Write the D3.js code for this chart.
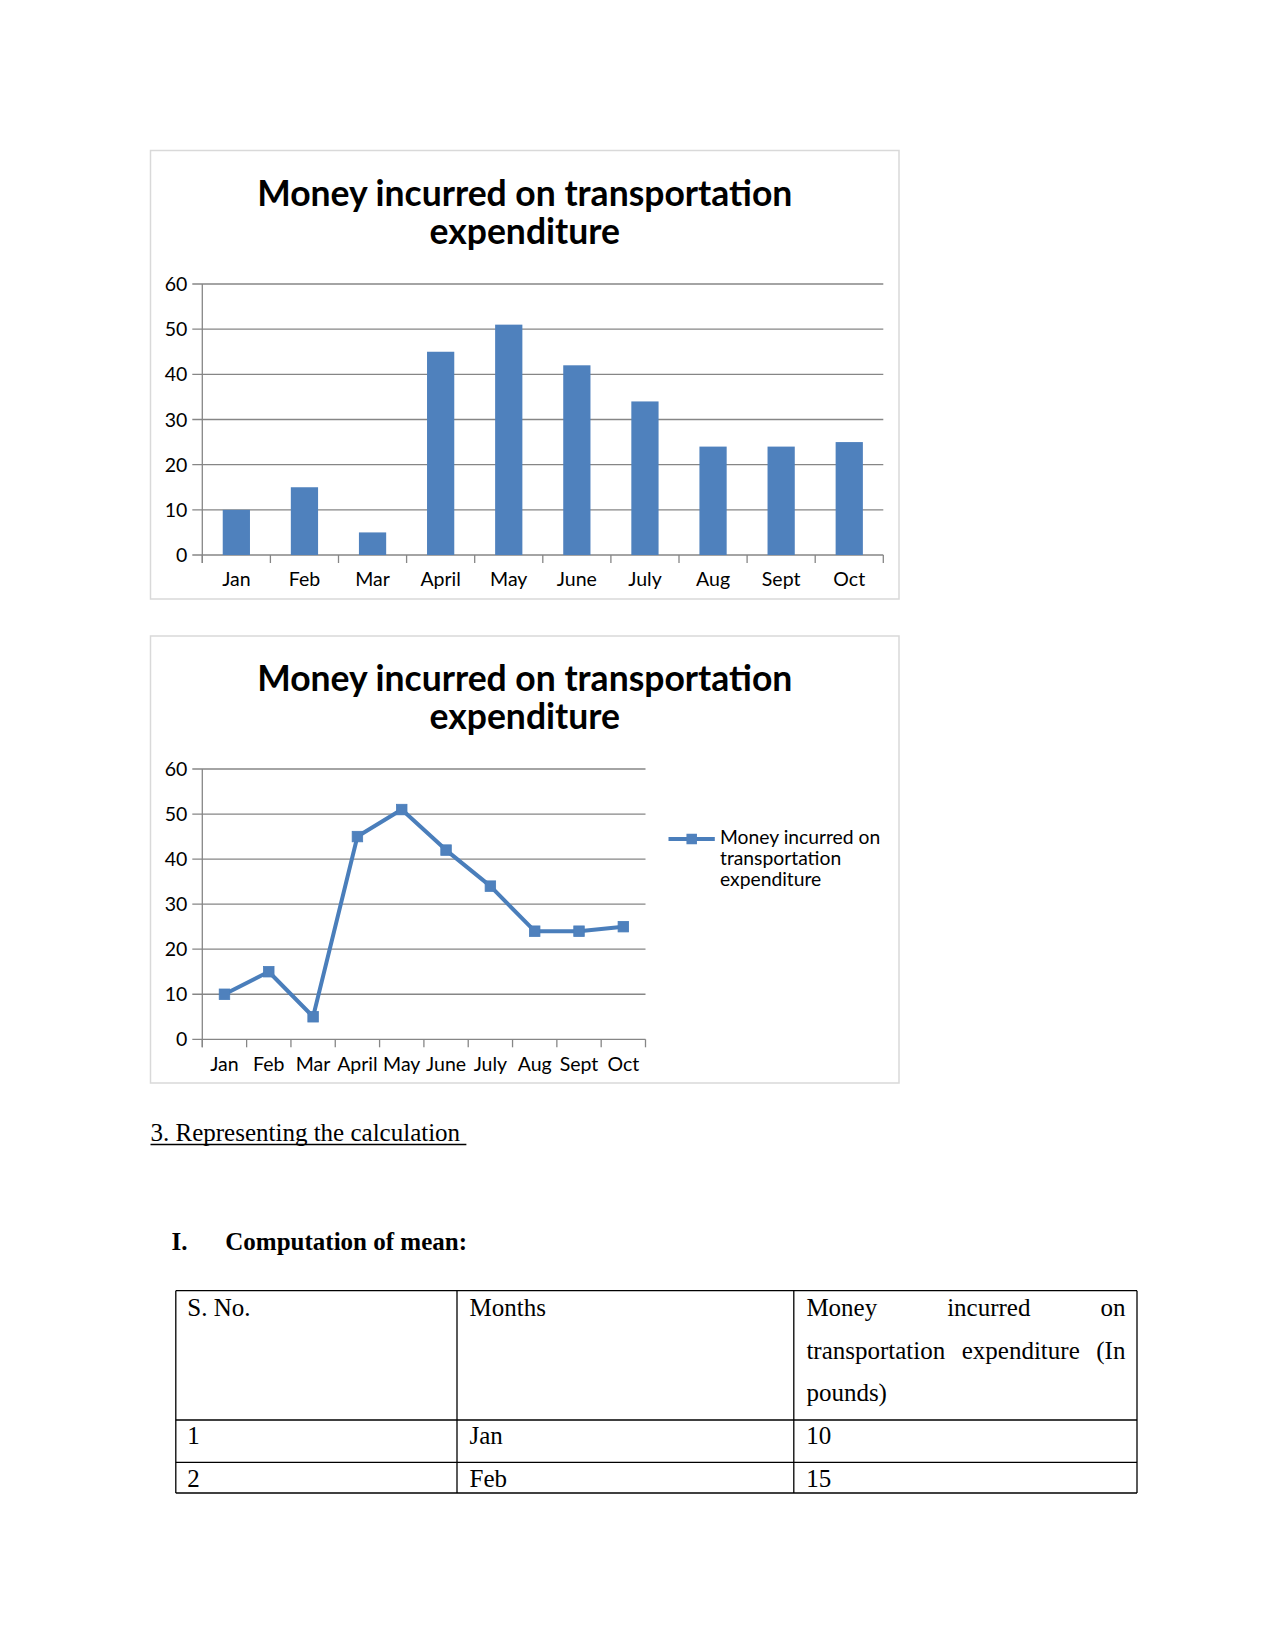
<!DOCTYPE html>
<html>
<head>
<meta charset="utf-8">
<script src="https://cdn.jsdelivr.net/npm/d3@7"></script>
<style>
  html, body { margin: 0; padding: 0; background: #ffffff; }
  svg { display: block; }
</style>
</head>
<body>
<svg id="page" width="1275" height="1651"></svg>
<script>
// ---------------- data ----------------
const months = ["Jan", "Feb", "Mar", "April", "May", "June", "July", "Aug", "Sept", "Oct"];
const values = [10, 15, 5, 45, 51, 42, 34, 24, 24, 25];
const yTicks = [0, 10, 20, 30, 40, 50, 60];
const titleLines = ["Money incurred on transportation", "expenditure"];
const legendLines = ["Money incurred on", "transportation", "expenditure"];
const sectionHeading = "3. Representing the calculation ";
const subHeadingNum = "I.";
const subHeading = "Computation of mean:";
const tableHeader = ["S. No.", "Months", "Money incurred on transportation expenditure (In pounds)"];
const tableRowCount = 2;

// ---------------- styles ----------------
const BLUE = "#4f81bd";
const LINEBLUE = "#4a7ebb";
const GRID = "#868686";
const CHART_FONT = "Lato, 'Open Sans', sans-serif";
const SERIF = "'Liberation Serif', 'DejaVu Serif', serif";
const AXIS_FS = 19.5;

const svg = d3.select("#page");

function drawFrame(g, box) {
  g.append("rect")
    .attr("x", box.x).attr("y", box.y)
    .attr("width", box.w).attr("height", box.h)
    .attr("fill", "#fff").attr("stroke", "#d9d9d9").attr("stroke-width", 1.5);
  const cx = box.x + box.w / 2;
  titleLines.forEach((t, i) => {
    g.append("text")
      .attr("x", cx).attr("y", box.titleY + i * 38)
      .attr("text-anchor", "middle")
      .attr("font-family", CHART_FONT).attr("font-weight", 700)
      .attr("font-size", 35.5).attr("fill", "#000")
      .text(t);
  });
}

function drawAxes(g, x, y, labelY) {
  const [x0, x1] = x.range();
  // gridlines
  g.selectAll(".grid").data(yTicks).enter().append("line")
    .attr("x1", x0 - 10).attr("x2", x1)
    .attr("y1", d => y(d)).attr("y2", d => y(d))
    .attr("stroke", GRID).attr("stroke-width", 1.3);
  // y axis line
  g.append("line")
    .attr("x1", x0).attr("x2", x0)
    .attr("y1", y(60)).attr("y2", y(0) + 8)
    .attr("stroke", GRID).attr("stroke-width", 1.3);
  // y labels
  g.selectAll(".ylab").data(yTicks).enter().append("text")
    .attr("x", x0 - 15).attr("y", d => y(d)).attr("dy", "0.36em")
    .attr("text-anchor", "end")
    .attr("font-family", CHART_FONT).attr("font-size", AXIS_FS).attr("fill", "#000")
    .text(d => d);
  // x tick marks at band boundaries
  const bounds = months.map(m => x(m)).concat([x1]);
  g.selectAll(".xtick").data(bounds).enter().append("line")
    .attr("x1", d => d).attr("x2", d => d)
    .attr("y1", y(0)).attr("y2", y(0) + 8)
    .attr("stroke", GRID).attr("stroke-width", 1.3);
  // x labels
  g.selectAll(".xlab").data(months).enter().append("text")
    .attr("x", d => x(d) + x.bandwidth() / 2).attr("y", labelY)
    .attr("text-anchor", "middle")
    .attr("font-family", CHART_FONT).attr("font-size", AXIS_FS).attr("fill", "#000")
    .text(d => d);
}

// ---------------- chart 1: bars ----------------
{
  const g = svg.append("g");
  drawFrame(g, { x: 150.5, y: 150.5, w: 748.5, h: 448.5, titleY: 206 });
  const x = d3.scaleBand().domain(months).range([202.3, 883.3]).padding(0);
  const y = d3.scaleLinear().domain([0, 60]).range([555, 284]);
  drawAxes(g, x, y, 585.5);
  const bw = x.bandwidth() * 0.4;
  g.selectAll(".bar").data(months).enter().append("rect")
    .attr("x", (d) => x(d) + (x.bandwidth() - bw) / 2)
    .attr("width", bw)
    .attr("y", (d, i) => y(values[i]))
    .attr("height", (d, i) => y(0) - y(values[i]))
    .attr("fill", BLUE);
}

// ---------------- chart 2: line ----------------
{
  const g = svg.append("g");
  drawFrame(g, { x: 150.5, y: 636, w: 748.5, h: 447, titleY: 691 });
  const x = d3.scaleBand().domain(months).range([202.3, 645.5]).padding(0);
  const y = d3.scaleLinear().domain([0, 60]).range([1039.3, 769]);
  drawAxes(g, x, y, 1070.5);
  const pts = months.map((m, i) => [x(m) + x.bandwidth() / 2, y(values[i])]);
  g.append("path")
    .attr("d", d3.line()(pts))
    .attr("fill", "none").attr("stroke", LINEBLUE)
    .attr("stroke-width", 4).attr("stroke-linejoin", "round");
  const ms = 10.5;
  g.selectAll(".mk").data(pts).enter().append("rect")
    .attr("x", d => d[0] - ms / 2).attr("y", d => d[1] - ms / 2)
    .attr("width", ms).attr("height", ms)
    .attr("fill", BLUE).attr("stroke", LINEBLUE).attr("stroke-width", 0.8);
  // legend
  const ly = 839;
  g.append("line").attr("x1", 668.5).attr("x2", 714.8).attr("y1", ly).attr("y2", ly)
    .attr("stroke", LINEBLUE).attr("stroke-width", 4);
  g.append("rect").attr("x", 691.7 - ms / 2).attr("y", ly - ms / 2)
    .attr("width", ms).attr("height", ms).attr("fill", BLUE);
  legendLines.forEach((t, i) => {
    g.append("text")
      .attr("x", 720).attr("y", 844 + i * 20.8)
      .attr("font-family", CHART_FONT).attr("font-size", 19.3).attr("fill", "#000")
      .text(t);
  });
}

// ---------------- body text ----------------
{
  const g = svg.append("g").attr("font-family", SERIF).attr("fill", "#000");
  const h = g.append("text").attr("x", 150.5).attr("y", 1141).attr("font-size", 25)
    .attr("xml:space", "preserve").style("white-space", "pre")
    .text(sectionHeading);
  const hw = h.node().getComputedTextLength();
  g.append("line").attr("x1", 150.5).attr("x2", 150.5 + hw)
    .attr("y1", 1144.5).attr("y2", 1144.5).attr("stroke", "#000").attr("stroke-width", 1.3);

  g.append("text").attr("x", 171.6).attr("y", 1250).attr("font-size", 25)
    .attr("font-weight", 700).text(subHeadingNum);
  g.append("text").attr("x", 225.3).attr("y", 1250).attr("font-size", 25)
    .attr("font-weight", 700).text(subHeading);

  // table
  const colX = [175.8, 457, 793.8, 1137];
  const rowY = [1290.7, 1420, 1462.4, 1493];
  const tg = g.append("g");
  colX.forEach(cx => tg.append("line").attr("x1", cx).attr("x2", cx)
    .attr("y1", rowY[0]).attr("y2", rowY[rowY.length - 1]).attr("stroke", "#000").attr("stroke-width", 1.3));
  rowY.forEach(ry => tg.append("line").attr("x1", colX[0]).attr("x2", colX[colX.length - 1])
    .attr("y1", ry).attr("y2", ry).attr("stroke", "#000").attr("stroke-width", 1.3));

  const pad = 11.5;
  tg.append("text").attr("x", colX[0] + pad).attr("y", 1316).attr("font-size", 25).text(tableHeader[0]);
  tg.append("text").attr("x", colX[1] + pad + 1).attr("y", 1316).attr("font-size", 25).text(tableHeader[1]);

  // justified header text in 3rd column
  const left = colX[2] + 12.6, right = colX[3] - 11.6;
  const words = tableHeader[2].split(" ");
  const lines = [words.slice(0, 3), words.slice(3, 6), words.slice(6)];
  lines.forEach((ws, li) => {
    const yy = 1316 + li * 42.6;
    const nodes = ws.map(w => tg.append("text").attr("y", yy).attr("font-size", 25).text(w));
    const widths = nodes.map(n => n.node().getComputedTextLength());
    const last = li === lines.length - 1;
    const total = widths.reduce((a, b) => a + b, 0);
    const gap = last || ws.length < 2 ? 6.25 : (right - left - total) / (ws.length - 1);
    let cur = left;
    nodes.forEach((n, k) => { n.attr("x", cur); cur += widths[k] + gap; });
  });

  const rowBase = [1444, 1487];
  for (let r = 0; r < tableRowCount; r++) {
    tg.append("text").attr("x", colX[0] + pad).attr("y", rowBase[r]).attr("font-size", 25).text(String(r + 1));
    tg.append("text").attr("x", colX[1] + pad + 1).attr("y", rowBase[r]).attr("font-size", 25).text(months[r]);
    tg.append("text").attr("x", colX[2] + pad + 1).attr("y", rowBase[r]).attr("font-size", 25).text(String(values[r]));
  }
}
</script>
</body>
</html>
